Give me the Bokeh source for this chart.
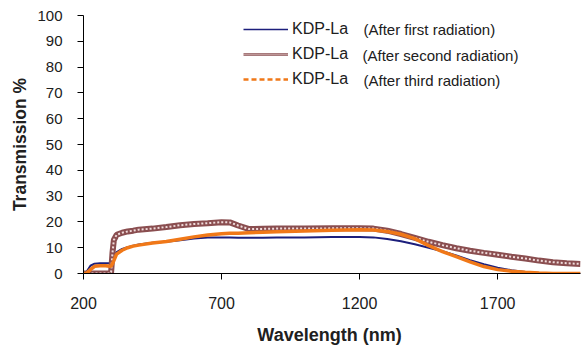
from bokeh.plotting import figure
from bokeh.models import Range1d, FixedTicker, Legend, LegendItem, Label, ColumnDataSource
from bokeh.embed import file_html
from bokeh.resources import INLINE

# ---------------- data ----------------
wavelength = [200, 210, 225, 240, 260, 280, 295, 300, 305, 310, 320, 340, 360, 380, 400,
              450, 500, 550, 600, 650, 700, 730, 760, 800, 850, 900, 1000, 1100, 1200,
              1250, 1300, 1350, 1400, 1450, 1500, 1550, 1600, 1650, 1700, 1750, 1800,
              1850, 1900, 1950, 2000]
first = [0, 0.5, 3, 3.8, 4, 4, 4, 4.2, 5.3, 6.5, 8.3, 9.5, 10.2, 10.8, 11.2,
         11.9, 12.3, 12.9, 13.6, 14, 14, 14, 13.9, 13.9, 13.9, 14, 14, 14.1, 14.1,
         14, 13.4, 12.5, 11.3, 10, 8.6, 7, 5.2, 3.6, 2.2, 1.3, 0.6,
         0.2, 0, 0, 0]
second = [0, 0, 0, 0, 0, 0, 0, 0.5, 8, 13, 15, 15.8, 16.3, 16.6, 17,
          17.4, 18, 18.7, 19.2, 19.5, 19.9, 19.8, 18.6, 17.2, 17.3, 17.4, 17.4, 17.5, 17.5,
          17.4, 16.6, 15.3, 13.8, 12.3, 11, 9.8, 8.8, 8, 7.3, 6.5, 5.8,
          5, 4.4, 4, 3.7]
third = [0, 0, 1.5, 2.8, 3, 3, 2.8, 2.8, 3.8, 5, 7.5, 9, 10, 10.6, 11,
         11.8, 12.4, 13.3, 14.2, 14.9, 15.4, 15.6, 15.6, 15.8, 16, 16.2, 16.5, 16.8, 17,
         16.9, 16.3, 15.2, 13.5, 10.8, 8.5, 6.5, 4.5, 2.7, 1.5, 0.9, 0.5,
         0.2, 0, 0, 0]

x_ticks = [200, 700, 1200, 1700]
y_ticks = [0, 10, 20, 30, 40, 50, 60, 70, 80, 90, 100]
series_name = "KDP-La"
notes = ["(After first radiation)", "(After second radiation)", "(After third radiation)"]
x_title = "Wavelength  (nm)"
y_title = "Transmission %"

BLUE = "#1c1f7c"
MAROON = "#8a4e50"
MAROON_LIGHT = "#f0dcdc"
ORANGE = "#f07818"
TEXT = "#202020"
FONT = "Liberation Sans"

# ---------------- figure ----------------
p = figure(width=583, height=347, output_backend="svg", toolbar_location=None,
           x_range=Range1d(200, 2000), y_range=Range1d(0, 100),
           min_border_left=83, min_border_right=3, min_border_top=15, min_border_bottom=74)
p.outline_line_color = None
p.grid.visible = False
p.background_fill_color = "white"

for ax in (p.xaxis, p.yaxis):
    ax.axis_line_color = "black"
    ax.axis_line_width = 1
    ax.major_tick_line_color = "black"
    ax.major_tick_in = 0
    ax.major_tick_out = 6
    ax.minor_tick_line_color = None
    ax.major_label_text_font = FONT
    ax.major_label_text_color = TEXT
    ax.axis_label_text_font = FONT
    ax.axis_label_text_font_style = "bold"
    ax.axis_label_text_color = TEXT

p.xaxis.ticker = FixedTicker(ticks=x_ticks)
p.yaxis.ticker = FixedTicker(ticks=y_ticks)
p.xaxis.major_label_text_font_size = "16px"
p.yaxis.major_label_text_font_size = "15px"
p.xaxis.major_label_standoff = 17
p.yaxis.major_label_standoff = 15
p.xaxis.axis_label = x_title
p.yaxis.axis_label = y_title
p.xaxis.axis_label_text_font_size = "18px"
p.yaxis.axis_label_text_font_size = "17.5px"
p.xaxis.axis_label_standoff = 13
p.yaxis.axis_label_standoff = 4

src = ColumnDataSource(dict(x=wavelength, a=first, b=second, c=third))

p.line("x", "a", source=src, line_color=BLUE, line_width=2)
p.line("x", "b", source=src, line_color=MAROON, line_width=6)
p.line("x", "b", source=src, line_color=MAROON_LIGHT, line_width=2, line_dash="2 2")
p.line("x", "c", source=src, line_color=ORANGE, line_width=3.5)

# legend-only renderers (data kept outside the visible ranges)
hidden = ColumnDataSource(dict(x=[-500, -400], y=[-50, -50]))
l1 = p.line("x", "y", source=hidden, line_color=BLUE, line_width=1.5)
l2a = p.line("x", "y", source=hidden, line_color=MAROON, line_width=2.5)
l2b = p.line("x", "y", source=hidden, line_color=MAROON_LIGHT, line_width=1, line_dash="1 1")
l3 = p.line("x", "y", source=hidden, line_color=ORANGE, line_width=2.5, line_dash="5 3")

legend = Legend(items=[LegendItem(label=series_name, renderers=[l1]),
                       LegendItem(label=series_name, renderers=[l2a, l2b]),
                       LegendItem(label=series_name, renderers=[l3])],
                location=(160, 184), padding=0, margin=0,
                border_line_color=None, background_fill_alpha=0,
                glyph_width=45, glyph_height=20, label_height=20, spacing=5,
                label_standoff=4, label_text_font_size="16px",
                label_text_font=FONT, label_text_color=TEXT)
p.add_layout(legend)

note_x = [280, 279, 280]
note_y = [244, 218, 193]
for t, nx, ny in zip(notes, note_x, note_y):
    p.add_layout(Label(x=nx, y=ny, x_units="screen", y_units="screen", text=t,
                       text_font=FONT, text_font_size="15px", text_color=TEXT,
                       text_baseline="middle"))

open("out.html", "w").write(file_html(p, INLINE))
